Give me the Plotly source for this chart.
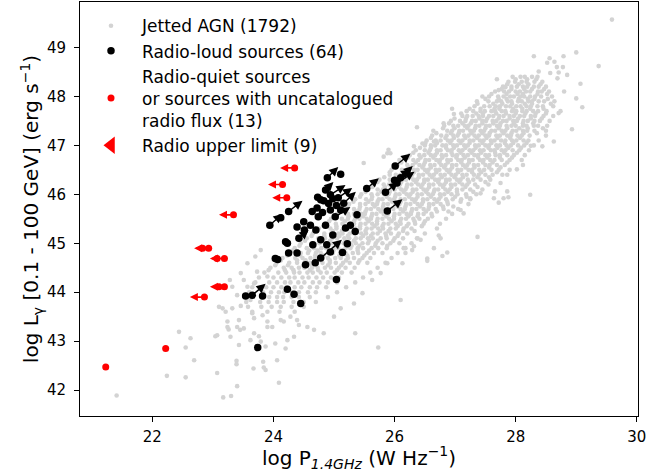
import plotly.graph_objects as go

# ---------------- data ----------------
x_ticks = [22, 24, 26, 28, 30]
y_ticks = [42, 43, 44, 45, 46, 47, 48, 49]

# dense part of the jetted-AGN cloud, read row by row (y value, x values)
gray_band_y = [48.4, 48.3, 48.2, 48.1, 48.0, 47.9, 47.8, 47.7, 47.6, 47.5, 47.4, 47.3, 47.2, 47.1,
               47.0, 46.9, 46.8, 46.7, 46.6, 46.5, 46.4, 46.3, 46.2, 46.1, 46.0, 45.9, 45.8, 45.7,
               45.6, 45.5, 45.4, 45.3, 45.2, 45.1, 45.0, 44.9, 44.8, 44.7, 44.6, 44.5, 44.4, 44.3,
               44.2, 44.1, 44.0, 43.9, 43.8, 43.7, 43.6]
gray_band_x = [
    "27.95 28.08 28.15 28.27 28.36",
    "27.88 27.99 28.1 28.18 28.31 28.44",
    "27.79 27.93 28.02 28.12 28.19 28.3 28.38 28.5",
    "27.66 27.81 27.89 28.0 28.07 28.17 28.24 28.37 28.43 28.55",
    "27.56 27.71 27.8 27.91 27.97 28.08 28.14 28.24 28.32 28.42 28.6",
    "27.36 27.55 27.69 27.76 27.87 27.93 28.04 28.1 28.21 28.27 28.38 28.47 28.64",
    "27.32 27.48 27.57 27.67 27.74 27.84 27.91 28.01 28.08 28.18 28.25 28.36 28.45 28.62",
    "27.19 27.3 27.42 27.49 27.6 27.66 27.77 27.83 27.94 28.01 28.11 28.18 28.29 28.37 28.51 28.74",
    "27.12 27.2 27.29 27.39 27.46 27.56 27.63 27.73 27.8 27.9 27.97 28.07 28.14 28.25 28.32 28.46 28.62",
    "26.93 27.08 27.17 27.28 27.34 27.45 27.51 27.62 27.68 27.79 27.85 27.96 28.02 28.13 28.2 28.31 28.4 28.56",
    "26.82 26.97 27.05 27.16 27.22 27.34 27.4 27.51 27.57 27.69 27.74 27.85 27.93 28.0 28.12 28.18 28.3 28.37 28.52",
    "26.64 26.87 26.95 27.07 27.13 27.25 27.31 27.42 27.48 27.6 27.66 27.77 27.83 27.95 28.01 28.12 28.19 28.31 28.5",
    "26.62 26.77 26.86 26.97 27.04 27.15 27.22 27.32 27.39 27.5 27.56 27.68 27.74 27.86 27.92 28.03 28.1 28.23 28.5",
    "26.53 26.68 26.76 26.88 26.94 27.06 27.12 27.24 27.3 27.41 27.47 27.59 27.65 27.76 27.83 27.94 28.01 28.13 28.21 28.38",
    "26.5 26.6 26.67 26.79 26.85 26.97 27.03 27.15 27.21 27.33 27.39 27.5 27.56 27.68 27.74 27.85 27.92 28.04 28.14 28.3",
    "26.35 26.5 26.58 26.7 26.76 26.88 26.94 27.06 27.12 27.24 27.3 27.41 27.47 27.59 27.65 27.77 27.83 27.95 28.06 28.22",
    "26.25 26.41 26.49 26.6 26.67 26.78 26.85 26.96 27.03 27.14 27.21 27.32 27.38 27.5 27.56 27.67 27.74 27.86 27.97 28.15",
    "26.08 26.31 26.39 26.51 26.57 26.69 26.75 26.87 26.93 27.05 27.11 27.23 27.29 27.41 27.47 27.58 27.65 27.77 27.9 28.1",
    "26.05 26.21 26.3 26.41 26.48 26.59 26.66 26.77 26.84 26.95 27.02 27.13 27.2 27.31 27.38 27.5 27.57 27.69 27.82 28.12",
    "25.95 26.12 26.2 26.32 26.38 26.5 26.56 26.68 26.74 26.86 26.92 27.04 27.1 27.22 27.28 27.4 27.48 27.6 27.72 27.9",
    "25.92 26.02 26.1 26.22 26.29 26.4 26.47 26.58 26.65 26.76 26.83 26.94 27.01 27.12 27.19 27.31 27.39 27.5 27.62 27.78",
    "25.75 25.92 26.01 26.12 26.19 26.31 26.37 26.49 26.55 26.67 26.73 26.85 26.91 27.03 27.09 27.21 27.3 27.42 27.58",
    "25.65 25.82 25.91 26.03 26.09 26.21 26.28 26.39 26.46 26.57 26.64 26.75 26.82 26.93 27.0 27.12 27.2 27.33 27.55",
    "25.55 25.72 25.81 25.93 26.0 26.11 26.18 26.3 26.36 26.48 26.54 26.66 26.72 26.84 26.91 27.03 27.12 27.25 27.45",
    "25.45 25.62 25.72 25.83 25.9 26.02 26.08 26.2 26.26 26.38 26.45 26.56 26.63 26.75 26.82 26.94 27.04 27.18 27.35",
    "25.35 25.53 25.62 25.74 25.8 25.92 25.99 26.1 26.17 26.29 26.35 26.47 26.54 26.66 26.73 26.85 26.96 27.1 27.25",
    "25.25 25.43 25.52 25.64 25.71 25.82 25.89 26.01 26.08 26.19 26.26 26.38 26.45 26.57 26.64 26.76 26.88 27.22",
    "25.15 25.33 25.42 25.54 25.61 25.73 25.8 25.91 25.98 26.1 26.17 26.29 26.36 26.48 26.56 26.68 26.81 27.05",
    "25.05 25.23 25.33 25.45 25.51 25.63 25.7 25.82 25.89 26.0 26.08 26.2 26.27 26.39 26.48 26.61 26.95",
    "24.95 25.13 25.23 25.35 25.42 25.54 25.61 25.72 25.8 25.91 25.99 26.11 26.19 26.31 26.41 26.55 26.85",
    "24.85 25.03 25.14 25.26 25.33 25.44 25.52 25.63 25.71 25.82 25.9 26.02 26.1 26.23 26.34 26.48 26.75",
    "24.75 24.94 25.04 25.16 25.24 25.35 25.43 25.54 25.62 25.73 25.81 25.93 26.02 26.15 26.28 26.7",
    "24.65 24.84 24.95 25.07 25.14 25.26 25.34 25.45 25.53 25.64 25.72 25.85 25.94 26.07 26.21 26.5",
    "24.55 24.74 24.85 24.97 25.05 25.17 25.25 25.36 25.44 25.56 25.64 25.77 25.87 26.0 26.14 26.38",
    "24.45 24.64 24.76 24.88 24.96 25.08 25.16 25.27 25.36 25.47 25.56 25.69 25.8 25.93 26.08 26.28",
    "24.35 24.55 24.67 24.79 24.87 24.99 25.07 25.19 25.27 25.39 25.48 25.62 25.73 25.87 26.15",
    "24.25 24.45 24.57 24.7 24.78 24.9 24.98 25.1 25.19 25.31 25.4 25.54 25.66 25.8 26.05",
    "24.15 24.36 24.48 24.61 24.69 24.81 24.9 25.02 25.11 25.23 25.33 25.47 25.6 25.95",
    "24.05 24.26 24.39 24.51 24.6 24.72 24.81 24.93 25.03 25.15 25.26 25.4 25.55 25.85",
    "23.95 24.17 24.3 24.42 24.51 24.64 24.73 24.85 24.95 25.08 25.19 25.34 25.72",
    "23.85 24.08 24.21 24.34 24.43 24.56 24.65 24.78 24.88 25.01 25.13 25.29 25.6",
    "23.76 24.0 24.13 24.26 24.35 24.48 24.58 24.71 24.82 24.95 25.08 25.48",
    "23.7 23.93 24.06 24.19 24.28 24.41 24.51 24.65 24.76 24.9 25.05 25.35",
    "23.65 23.88 24.0 24.13 24.22 24.35 24.46 24.6 24.72 24.87 25.2",
    "23.6 23.83 23.96 24.09 24.18 24.31 24.42 24.57 24.7 25.05",
    "23.58 23.8 23.93 24.06 24.16 24.3 24.42 24.6 24.9",
    "23.55 23.78 23.92 24.06 24.17 24.33 24.5 24.7",
    "23.58 23.8 23.97 24.12 24.3 24.5",
    "23.65 23.9 24.1 24.35",
]

# in-between rows of the cloud (sparser)
gray_mid_y = [48.35, 48.25, 48.15, 48.05, 47.95, 47.85, 47.75, 47.65, 47.55, 47.45, 47.35, 47.25,
              47.15, 47.05, 46.95, 46.85, 46.75, 46.65, 46.55, 46.45, 46.35, 46.25, 46.15, 46.05,
              45.95, 45.85, 45.75, 45.65, 45.55, 45.45, 45.35, 45.25, 45.15, 45.05, 44.95, 44.85,
              44.75, 44.65, 44.55, 44.45]
gray_mid_x = [
    "28.0 28.19 28.34",
    "27.86 28.05 28.21 28.41",
    "27.77 27.93 28.14 28.27 28.47",
    "27.6 27.85 28.03 28.12 28.36 28.52",
    "27.5 27.72 27.85 28.05 28.2 28.31 28.53",
    "27.37 27.63 27.78 27.94 28.15 28.27 28.58",
    "27.24 27.42 27.65 27.73 27.96 28.11 28.24 28.46",
    "27.1 27.35 27.46 27.68 27.84 28.0 28.16 28.33 28.5",
    "26.99 27.18 27.4 27.53 27.72 27.9 28.04 28.25 28.43",
    "26.9 27.12 27.26 27.45 27.63 27.75 27.97 28.12 28.29",
    "26.8 26.99 27.2 27.33 27.5 27.72 27.86 28.06 28.2 28.45",
    "26.69 26.93 27.06 27.27 27.45 27.57 27.8 27.93 28.13 28.35",
    "26.6 26.84 26.98 27.17 27.36 27.52 27.7 27.91 28.07",
    "26.51 26.7 26.92 27.09 27.24 27.45 27.6 27.82 27.96 28.18",
    "26.42 26.6 26.85 26.98 27.17 27.34 27.55 27.7 27.88 28.09",
    "26.31 26.56 26.7 26.94 27.09 27.27 27.43 27.66 27.81 28.02",
    "26.22 26.43 26.64 26.79 27.02 27.16 27.38 27.53 27.74 27.94",
    "26.11 26.35 26.5 26.74 26.88 27.1 27.23 27.46 27.62 27.86",
    "26.03 26.23 26.46 26.6 26.82 26.95 27.17 27.32 27.56 27.75",
    "25.92 26.16 26.32 26.54 26.69 26.9 27.05 27.28 27.43 27.69",
    "25.83 26.03 26.26 26.4 26.62 26.78 26.99 27.13 27.37 27.56",
    "25.72 25.97 26.11 26.35 26.49 26.72 26.85 27.07 27.23 27.5",
    "25.63 25.84 26.07 26.2 26.44 26.57 26.8 26.94 27.17 27.37",
    "25.52 25.78 25.92 26.15 26.3 26.52 26.65 26.88 27.03 27.3",
    "25.43 25.63 25.87 26.01 26.24 26.38 26.6 26.76 27.0 27.19",
    "25.32 25.57 25.72 25.96 26.1 26.33 26.47 26.7 26.87 27.09",
    "25.23 25.43 25.67 25.81 26.05 26.18 26.42 26.57 26.8 26.97",
    "25.12 25.37 25.52 25.77 25.9 26.14 26.28 26.52 26.7",
    "25.03 25.24 25.48 25.62 25.86 25.99 26.23 26.38 26.62",
    "24.92 25.18 25.33 25.57 25.71 25.95 26.09 26.33 26.5",
    "24.83 25.04 25.29 25.43 25.67 25.8 26.05 26.2 26.45",
    "24.72 24.98 25.13 25.38 25.52 25.76 25.9 26.14 26.33",
    "24.63 24.84 25.09 25.23 25.48 25.61 25.86 26.05",
    "24.52 24.79 24.93 25.19 25.33 25.58 25.72 25.98",
    "24.43 24.64 24.89 25.03 25.29 25.42 25.68 25.88",
    "24.32 24.59 24.73 24.99 25.13 25.39 25.58",
    "24.23 24.44 24.69 24.83 25.09 25.22 25.5",
    "24.12 24.39 24.53 24.79 24.93 25.2 25.42",
    "24.03 24.24 24.49 24.63 24.9 25.12",
    "23.92 24.19 24.33 24.6 24.74 25.05",
]

# scattered jetted-AGN points outside the dense band
gray_sparse_x = [29.59, 29.0, 28.79, 28.30, 28.56, 28.64, 28.52, 29.37, 28.68, 28.78, 28.38, 28.57, 28.71,
                 28.85, 28.69, 27.69, 29.07, 28.8, 29.0, 29.1, 27.45, 27.72, 27.83,
                 28.93, 28.63, 28.71, 28.44, 28.25, 28.02, 27.86, 27.75,
                 27.64, 27.72, 27.8, 27.88, 28.24, 27.66, 27.86, 27.42, 27.25, 27.09, 27.14, 26.89,
                 27.37, 26.73, 26.76, 26.65, 26.87, 26.79, 26.54, 26.54, 26.32, 26.29, 26.18, 26.18,
                 26.13, 26.1, 26.43, 26.37,
                 26.95, 26.98, 26.81, 26.37, 26.65, 26.46, 26.32, 25.9, 25.93, 25.49, 25.82, 25.88,
                 21.41, 22.24, 22.55, 22.44, 22.63, 22.55, 22.69, 23.04, 23.07, 23.07, 23.17, 23.30,
                 23.40, 24.09, 23.39, 23.39, 23.67, 23.84, 23.87, 24.06, 23.83, 23.62, 23.76, 23.43,
                 23.26, 23.24, 23.40, 23.45, 23.51, 23.10, 23.21, 23.32, 23.28, 23.40, 23.57, 23.68,
                 23.82, 23.90, 23.98, 24.17, 24.23, 24.34, 24.42, 23.68,
                 23.29, 23.16, 23.46, 23.24, 23.43, 23.65, 23.79, 23.87, 24.03, 24.20, 23.90, 24.12,
                 24.28, 24.39, 24.56, 24.67, 24.83, 25.0, 25.11, 25.33, 25.47, 25.35, 25.73, 25.63,
                 25.77, 25.88, 23.62,
                 23.32, 23.46, 23.57, 23.70, 23.79, 23.73, 23.90, 23.51, 23.68]
gray_sparse_y = [49.57, 48.9, 48.82, 48.82, 48.78, 48.71, 48.69, 48.62, 48.6, 48.6, 48.51, 48.48, 48.49,
                 48.44, 48.37, 48.35, 48.26, 48.1, 47.96, 47.78, 48.0, 48.13, 48.19,
                 47.33, 47.08, 47.66, 46.98, 46.99, 46.51, 46.40, 46.23,
                 45.92, 45.83, 45.92, 45.94, 45.99, 46.06, 46.06, 46.02, 45.92, 45.68, 45.61, 45.65,
                 45.13, 45.16, 45.10, 44.90, 44.81, 44.74, 44.69, 44.64, 44.94, 44.86, 44.90, 44.80,
                 44.59, 43.84, 45.07, 45.10,
                 47.75, 47.64, 47.45, 47.37, 47.08, 47.04, 46.98, 46.91, 46.84, 46.64, 46.77, 46.84,
                 41.89, 42.29, 42.26, 43.19, 43.06, 42.87, 42.61, 43.10, 43.12, 42.35, 41.85, 41.88,
                 42.08, 42.15, 42.60, 42.53, 42.44, 42.46, 42.41, 42.61, 42.58, 43.02, 43.10, 42.92,
                 43.24, 43.29, 43.29, 43.23, 43.26, 43.70, 43.60, 43.67, 44.25, 43.94, 44.11, 43.47,
                 43.53, 43.40, 43.29, 43.40, 43.02, 43.09, 43.33, 43.16,
                 43.09, 43.67, 43.72, 43.40, 43.43, 43.57, 42.99, 42.89, 42.95, 42.85, 43.29, 43.43,
                 43.50, 43.43, 43.29, 43.23, 43.16, 43.50, 43.67, 43.77, 43.98, 43.16, 42.87, 44.25,
                 44.39, 44.59, 43.84,
                 44.11, 44.39, 44.59, 44.73, 44.86, 44.42, 44.32, 44.25, 44.18]

# radio-loud sources
black_x = [23.74, 23.54, 23.65, 23.82, 24.23, 24.34, 24.45, 25.04, 24.03, 24.07, 24.25, 24.39, 24.53,
           24.69, 24.78, 24.94, 25.14, 25.22, 25.35, 25.38, 24.20, 24.23, 24.42, 23.94, 24.12, 24.25,
           24.39, 24.50, 24.64, 24.72, 24.73, 24.78, 24.86, 24.89, 25.11, 24.83, 24.91, 24.98, 25.04,
           24.94, 25.11, 25.02, 25.16, 24.86, 24.70, 25.19, 24.98, 24.78, 24.61, 24.94, 25.07, 25.54,
           25.85, 25.88, 26.01, 26.00, 26.04, 26.10, 24.51, 25.27, 24.88, 24.65, 24.81, 24.74]
black_y = [42.87, 43.92, 43.94, 43.92, 44.06, 43.96, 43.77, 44.26, 44.69, 44.67, 44.80, 44.80, 44.56,
           44.60, 44.70, 44.82, 44.81, 44.99, 45.24, 45.58, 45.03, 45.00, 45.10, 45.37, 45.52, 45.65,
           45.33, 45.44, 45.65, 45.72, 45.94, 45.89, 46.09, 46.34, 46.41, 45.87, 45.81, 45.91, 45.77,
           45.68, 45.68, 45.54, 45.82, 45.37, 45.27, 45.31, 45.17, 45.07, 45.37, 45.99, 45.93, 46.12,
           46.04, 45.66, 46.58, 46.29, 46.23, 46.34, 45.27, 45.37, 44.97, 44.97, 45.63, 45.54]

# shifted positions shown by arrows (index into black arrays, arrow tip)
shift_idx = [2, 13, 22, 23, 25, 32, 33, 41, 42, 49, 50, 51, 52, 53, 54, 55, 56, 57]
shift_to_x = [23.87, 25.13, 24.58, 24.15, 24.48, 24.99, 25.07, 25.27, 25.36, 25.19, 25.30, 25.74,
              26.06, 26.13, 26.26, 26.26, 26.33, 26.30]
shift_to_y = [44.17, 45.07, 45.27, 45.60, 45.87, 46.25, 46.56, 45.74, 46.05, 46.19, 46.13, 46.33,
              46.25, 45.90, 46.83, 46.50, 46.46, 46.58]

# radio-quiet / uncatalogued radio flux
red_x = [24.35, 24.15, 24.22, 23.34, 22.83, 22.93, 23.07, 23.19, 23.10, 23.19, 22.86, 22.22, 21.23]
red_y = [46.54, 46.20, 45.93, 45.58, 44.90, 44.90, 44.69, 44.69, 44.11, 44.11, 43.90, 42.85, 42.47]
# sources drawn with a radio upper-limit arrow (indices into red arrays)
limit_idx = [0, 1, 2, 3, 5, 7, 9, 10]
limit_len = 0.24

legend_labels = ["Jetted AGN (1792)", "Radio-loud sources (64)",
                 "Radio-quiet sources<br>or sources with uncatalogued<br>radio flux (13)",
                 "Radio upper limit (9)"]

# ---------------- build ----------------
gx, gy = [], []
for ys, rows in ((gray_band_y, gray_band_x), (gray_mid_y, gray_mid_x)):
    for yv, row in zip(ys, rows):
        for v in row.split():
            gx.append(float(v))
            gy.append(yv)
gx += gray_sparse_x
gy += gray_sparse_y

FONT = "DejaVu Sans"
fig = go.Figure()
fig.add_trace(go.Scatter(x=gx, y=gy, mode="markers", name=legend_labels[0],
                         marker=dict(color="#d3d3d3", size=4.6, line=dict(width=0))))
fig.add_trace(go.Scatter(x=black_x, y=black_y, mode="markers", name=legend_labels[1],
                         marker=dict(color="black", size=7.5, line=dict(width=0))))
fig.add_trace(go.Scatter(x=red_x, y=red_y, mode="markers", name=legend_labels[2],
                         marker=dict(color="red", size=7, line=dict(width=0))))
fig.add_trace(go.Scatter(x=[None], y=[None], mode="markers", name=legend_labels[3],
                         marker=dict(color="red", size=15, symbol="triangle-left", line=dict(width=0))))

ann = []
for i, tx, ty in zip(shift_idx, shift_to_x, shift_to_y):
    ann.append(dict(x=tx, y=ty, ax=black_x[i], ay=black_y[i], xref="x", yref="y",
                    axref="x", ayref="y", text="", showarrow=True, arrowhead=2,
                    arrowsize=1.3, arrowwidth=1.4, arrowcolor="black"))
for i in limit_idx:
    ann.append(dict(x=red_x[i] - limit_len, y=red_y[i], ax=red_x[i], ay=red_y[i],
                    xref="x", yref="y", axref="x", ayref="y", text="", showarrow=True,
                    arrowhead=2, arrowsize=1.0, arrowwidth=1.6, arrowcolor="red"))

axis_common = dict(showgrid=False, zeroline=False, showline=True, linecolor="black", linewidth=1,
                   mirror=True, ticks="outside", ticklen=5, tickwidth=1, tickcolor="black",
                   tickfont=dict(family=FONT, size=15, color="black"))
fig.update_xaxes(range=[20.805, 30.02], tickvals=x_ticks, ticklabelstandoff=2,
                 title=dict(text="log P<sub><i>1.4GHz</i></sub> (W Hz<sup>−1</sup>)",
                            font=dict(family=FONT, size=20, color="black"), standoff=4),
                 **axis_common)
fig.update_yaxes(range=[41.47, 49.93], tickvals=y_ticks, ticklabelstandoff=5,
                 title=dict(text="log L<sub>γ</sub> [0.1 - 100 GeV] (erg s<sup>−1</sup>)",
                            font=dict(family=FONT, size=20, color="black"), standoff=2),
                 **axis_common)
fig.update_layout(width=672, height=472, margin=dict(l=80, r=34, t=2, b=56),
                  plot_bgcolor="white", paper_bgcolor="white", annotations=ann,
                  showlegend=True,
                  legend=dict(x=0.0, y=0.985, xanchor="left", yanchor="top",
                              bgcolor="rgba(255,255,255,0)", itemwidth=52,
                              font=dict(family=FONT, size=17, color="black")))
fig.write_html("out.html")
